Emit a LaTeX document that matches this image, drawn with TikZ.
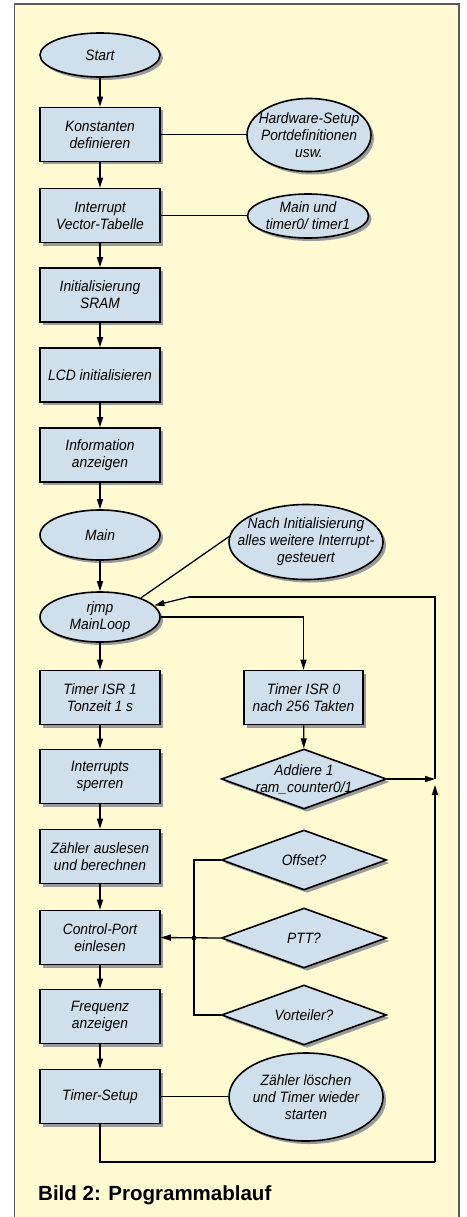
\documentclass[tikz,border=0pt]{standalone}
\usepackage{fontspec}
\setmainfont{Liberation Sans}
\newfontfamily\nodefont{Liberation Sans}[FakeStretch=0.92]
\usetikzlibrary{shapes.geometric,shadows,arrows.meta}
\definecolor{bg}{HTML}{FFFAD2}
\definecolor{blu}{HTML}{CFE0EC}
\definecolor{shd}{HTML}{9A9A9A}
\definecolor{frm}{HTML}{5A5A5A}
\begin{document}
\begin{tikzpicture}[x=1pt,y=-1pt,
  txt/.style={align=center, font=\nodefont\itshape\fontsize{15}{17}\selectfont},
  base/.style={draw=black, line width=1.6pt, fill=blu, txt, inner sep=0pt,
    drop shadow={shadow xshift=3pt, shadow yshift=-3pt, fill=shd, opacity=1}},
  box/.style={base, rectangle, minimum width=120pt, minimum height=54pt},
  oval/.style={base, ellipse},
  dia/.style={base, diamond, minimum width=165pt, minimum height=60pt},
  arr/.style={line width=1.3pt, -{Triangle[length=10pt,width=6pt]}},
  ln/.style={line width=1.3pt}]
\useasboundingbox (0,0) rectangle (466,1217);
\fill[bg] (14.5,4) rectangle (459,1217);
\draw[frm, line width=1.5pt] (14.5,1217) -- (14.5,4) -- (459,4) -- (459,1217);

% left column
\node[oval, minimum width=120pt, minimum height=44pt] (start) at (100,55) {Start};
\node[box] (konst) at (100,134.5) {Konstanten\\definieren};
\node[box] (intv) at (100,215.5) {Interrupt\\Vector-Tabelle};
\node[box] (init) at (100,295) {Initialisierung\\SRAM};
\node[box] (lcd) at (100,375) {LCD initialisieren};
\node[box] (info) at (100,455) {Information\\anzeigen};
\node[oval, minimum width=120pt, minimum height=50pt] (main) at (100,535) {Main};
\node[oval, minimum width=120pt, minimum height=50pt] (rjmp) at (100,617) {rjmp\\MainLoop};
\node[box] (isr1) at (100,697.5) {Timer ISR 1\\Tonzeit 1 s};
\node[box] (irq) at (100,776.5) {Interrupts\\sperren};
\node[box] (zaehl) at (100,856.5) {Zähler auslesen\\und berechnen};
\node[box] (ctrl) at (100,937.5) {Control-Port\\einlesen};
\node[box] (freq) at (100,1016.5) {Frequenz\\anzeigen};
\node[box] (tsetup) at (100,1096.5) {Timer-Setup};

% right column
\node[oval, minimum width=124pt, minimum height=73pt,
  label={[txt]center:{Hardware-Setup\\Portdefinitionen\\usw.}}] (hw) at (309,135) {};
\node[oval, minimum width=121pt, minimum height=44pt,
  label={[txt]center:{Main und\\timer0/ timer1}}] (mainund) at (308,216) {};
\node[oval, minimum width=154pt, minimum height=75pt,
  label={[txt]center:{Nach Initialisierung\\alles weitere Interrupt-\\gesteuert}}] (nach) at (306,542) {};
\node[box, minimum width=119pt] (isr0) at (303.5,697.5) {Timer ISR 0\\nach 256 Takten};
\node[dia, label={[txt]center:{Addiere 1\\ram\_counter0/1}}] (add) at (304,779) {};
\node[dia, label={[txt]center:{Offset?}}] (off) at (304,860) {};
\node[dia, label={[txt]center:{PTT?}}] (ptt) at (304,938) {};
\node[dia, label={[txt]center:{Vorteiler?}}] (vort) at (304,1015) {};
\node[oval, minimum width=154pt, minimum height=88pt,
  label={[txt]center:{Zähler löschen\\und Timer wieder\\starten}}] (zl) at (306,1097) {};

% caption
\node[anchor=base west, inner sep=0pt, font=\bfseries\fontsize{20.5}{24}\selectfont] (cap) at (38,1200.5) {Bild 2: Programmablauf};

% helper coordinates
\coordinate (lb) at (100,1162);
\coordinate (rb) at (435,1162);
\coordinate (rt) at (435,597);
\coordinate (rk) at (189,597);
\coordinate (jn) at (435,785);
\coordinate (ja) at (435,779);
\coordinate (bt) at (194,860);
\coordinate (bb) at (194,1015);
\node[circle, fill=black, inner sep=0pt, minimum size=5pt] (dot) at (194,938) {};

% main flow arrows
\draw[arr] (start) -- (konst);
\draw[arr] (konst) -- (intv);
\draw[arr] (intv) -- (init);
\draw[arr] (init) -- (lcd);
\draw[arr] (lcd) -- (info);
\draw[arr] (info) -- (main);
\draw[arr] (main) -- (rjmp);
\draw[arr] (rjmp) -- (isr1);
\draw[arr] (isr1) -- (irq);
\draw[arr] (irq) -- (zaehl);
\draw[arr] (zaehl) -- (ctrl);
\draw[arr] (ctrl) -- (freq);
\draw[arr] (freq) -- (tsetup);

% side links
\draw[ln] (konst.east) -- (konst.east -| hw.west);
\draw[ln] (intv.east) -- (intv.east -| mainund.west);
\draw[ln] (tsetup.east) -- (tsetup.east -| zl.west);
\draw[ln] (nach.176) -- (rjmp.25);

% ISR0 branch
\draw[arr] (rjmp.east) -| (isr0.north);
\draw[arr] (isr0) -- (add);
\draw[arr] (add.east) -- (ja);

% loop back
\draw[ln] (tsetup.south) -- (lb) -- (rb);
\draw[arr] (rb) -- (jn);
\draw[ln] (ja) -- (rt) -- (rk);
\draw[arr] (rk) -- (rjmp.12);

% control port inputs
\draw[ln] (off.west) -- (bt) -- (bb) -- (vort.west);
\draw[arr] (ptt.west) -- (ctrl.east);
\end{tikzpicture}
\end{document}
